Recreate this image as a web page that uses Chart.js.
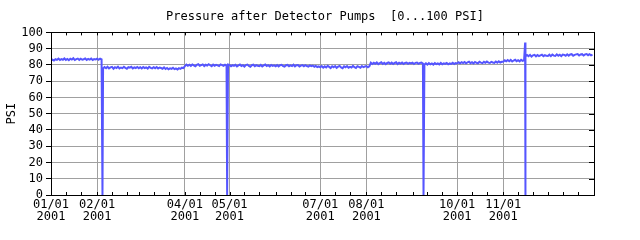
<!DOCTYPE html>
<html>
<head>
<meta charset="utf-8">
<script src="https://cdn.jsdelivr.net/npm/chart.js@4.4.1/dist/chart.umd.min.js"></script>
<style>
  html, body { margin: 0; padding: 0; background: #fff; }
</style>
</head>
<body>
<canvas id="myChart" width="640" height="240"></canvas>
<script>
// daily readings, PSI (day 0 = 01/01/2001)
const psiJan = [82.8, 83.3, 82.7, 83.5, 83.1, 83.9, 83.0, 83.6, 83.2, 84.0, 83.1, 83.7, 82.9, 83.8, 83.3, 84.1, 83.0, 83.6, 83.9, 83.1, 83.8, 83.2, 83.5, 84.0, 83.1, 83.7, 83.3, 83.9, 83.0, 83.6, 83.4];
const psiFeb = [83.8, 83.2, 83.9, 83.4, 77.8, 78.7, 78.0, 78.9, 77.9, 78.5, 78.8, 77.7, 78.6, 78.1, 78.9, 77.8, 78.4, 78.0, 78.8, 78.2, 77.7, 78.6, 78.3, 78.9, 77.9, 78.5, 78.1, 78.7];
const psiMar = [78.0, 78.6, 77.8, 78.7, 78.1, 78.5, 77.7, 78.8, 78.2, 77.9, 78.6, 78.0, 78.7, 77.8, 78.4, 78.1, 77.6, 78.5, 77.5, 78.1, 77.3, 77.9, 77.6, 78.2, 77.4, 77.8, 77.2, 78.0, 77.6, 78.3, 78.0];
const psiApr = [79.3, 80.2, 79.5, 80.1, 79.4, 80.3, 79.7, 79.2, 80.0, 80.4, 79.5, 79.9, 80.3, 79.3, 80.1, 79.6, 80.4, 79.8, 79.2, 80.2, 79.5, 80.0, 79.7, 79.3, 80.3, 79.9, 79.4, 80.1, 79.6, 80.2];
const psiMay = [80.0, 79.2, 79.9, 79.4, 80.1, 79.1, 79.7, 80.2, 79.3, 79.8, 79.0, 79.9, 80.2, 79.4, 78.9, 79.8, 80.1, 79.2, 79.9, 79.5, 79.2, 80.0, 79.1, 79.7, 80.2, 79.3, 79.8, 79.1, 80.0, 79.4, 79.7];
const psiJun = [79.2, 79.9, 79.1, 79.8, 80.1, 79.3, 79.0, 79.8, 80.0, 79.2, 79.7, 79.3, 80.1, 79.1, 79.8, 79.9, 79.0, 79.6, 79.9, 79.2, 79.8, 79.3, 79.0, 79.7, 79.2, 79.6, 78.9, 79.4, 78.7, 79.1];
const psiJul = [78.5, 79.3, 78.3, 79.1, 78.4, 79.4, 78.8, 78.1, 79.2, 78.6, 79.3, 78.2, 78.9, 79.4, 78.4, 78.0, 79.1, 78.6, 79.3, 78.3, 78.8, 78.4, 79.4, 78.6, 78.1, 79.2, 78.8, 78.3, 79.3, 78.6, 79.0];
const psiAug = [79.3, 78.6, 79.1, 81.4, 80.6, 81.3, 80.7, 81.5, 80.5, 81.1, 81.6, 80.6, 81.3, 80.5, 81.2, 81.5, 80.7, 81.4, 80.6, 81.2, 81.6, 80.5, 81.3, 80.8, 81.5, 80.6, 81.2, 81.4, 80.7, 81.3, 80.9];
const psiSep = [81.4, 80.6, 81.3, 81.5, 80.7, 81.2, 81.4, 80.8, 80.3, 81.0, 80.2, 81.1, 80.4, 80.9, 80.2, 81.1, 80.5, 80.9, 80.3, 81.2, 80.4, 81.0, 80.6, 81.2, 80.4, 80.9, 80.6, 81.3, 80.5, 81.1];
const psiOct = [80.9, 81.6, 81.0, 81.7, 81.1, 81.8, 81.0, 81.5, 82.0, 81.1, 81.7, 80.9, 81.8, 81.3, 81.0, 81.9, 81.4, 81.1, 81.9, 81.3, 82.1, 81.4, 81.2, 81.9, 81.5, 81.2, 82.1, 81.4, 82.2, 81.5, 81.9];
const psiNov = [82.0, 82.8, 82.2, 83.0, 82.3, 83.1, 82.1, 82.7, 83.2, 82.3, 82.9, 82.2, 83.1, 82.5, 82.8, 85.2, 86.1, 85.4, 86.2, 85.1, 85.9, 86.2, 85.3, 86.1, 85.4, 85.9, 86.3, 85.4, 86.0, 85.6];
const psiDec = [85.5, 86.3, 85.4, 86.4, 85.7, 85.5, 86.5, 85.7, 86.3, 85.4, 86.4, 86.2, 85.6, 86.5, 85.7, 86.4, 86.6, 85.7, 86.2, 86.5, 86.7, 85.8, 86.4, 86.6, 85.8, 86.5, 86.7, 86.0, 86.6, 85.9, 86.4];

// pump trips / spikes between daily readings
const eventDays = [34.6, 118.4, 250.4, 318.7, 318.85];
const eventPsi = [0, 0, 0, 93.8, 0];

// x axis
const monthStartDays = [0, 31, 59, 90, 120, 151, 181, 212, 243, 273, 304, 334];
const tickDays = [0, 31, 90, 120, 181, 212, 273, 304];
const tickLabels = ['01/01', '02/01', '04/01', '05/01', '07/01', '08/01', '10/01', '11/01'];
const yearLabel = '2001';

const daily = [].concat(psiJan, psiFeb, psiMar, psiApr, psiMay, psiJun, psiJul, psiAug, psiSep, psiOct, psiNov, psiDec);
const points = daily.map((v, i) => ({x: i, y: v}));
eventDays.forEach((d, i) => points.push({x: d, y: eventPsi[i]}));
points.sort((a, b) => a.x - b.x);

const minorDays = [];
monthStartDays.forEach(d => { minorDays.push(d, d + 10, d + 20); });

const mono = '"DejaVu Sans Mono", monospace';

// black frame, small ticks on top/bottom and right edges
const frame = {
  id: 'frame',
  afterDatasetsDraw(chart) {
    const {ctx, chartArea: a, scales} = chart;
    ctx.save();
    ctx.strokeStyle = '#000';
    ctx.lineWidth = 1;
    ctx.beginPath();
    minorDays.forEach(d => {
      const px = Math.round(scales.x.getPixelForValue(d)) + 0.5;
      ctx.moveTo(px, a.bottom); ctx.lineTo(px, a.bottom - 3);
      ctx.moveTo(px, a.top); ctx.lineTo(px, a.top + 3);
    });
    for (let v = 10; v < 100; v += 10) {
      const py = Math.round(scales.y.getPixelForValue(v)) + 0.5;
      ctx.moveTo(a.right, py); ctx.lineTo(a.right - 5, py);
    }
    ctx.stroke();
    ctx.strokeRect(Math.round(a.left) + 0.5, Math.round(a.top) + 0.5,
      Math.round(a.right - a.left), Math.round(a.bottom - a.top));
    ctx.restore();
  }
};

const chart1 = document.getElementById('myChart').getContext('2d');

const myChart = new Chart(chart1, {
  type: 'line',
  data: {
    datasets: [{
      data: points,
      borderColor: '#5555ff',
      borderWidth: 2,
      pointRadius: 0,
      tension: 0,
      fill: false
    }]
  },
  options: {
    responsive: false,
    animation: false,
    layout: {
      padding: {left: 10, right: 0, top: 0, bottom: 0}
    },
    plugins: {
      legend: {display: false},
      tooltip: {enabled: false},
      title: {
        display: true,
        text: 'Pressure after Detector Pumps  [0...100 PSI]',
        color: '#000',
        font: {family: mono, size: 12, weight: 'normal', lineHeight: 1.2},
        padding: {top: 10, bottom: 8}
      }
    },
    scales: {
      x: {
        type: 'linear',
        min: 0,
        max: 365,
        afterBuildTicks: (s) => { s.ticks = tickDays.map(v => ({value: v})); },
        afterFit: (s) => { s.height = 45; },
        border: {display: false},
        grid: {color: '#a0a0a0', drawTicks: false},
        ticks: {
          autoSkip: false,
          maxRotation: 0,
          padding: 4,
          color: '#000',
          font: {family: mono, size: 12, lineHeight: 1.0},
          callback: (value) => {
            const i = tickDays.indexOf(value);
            return i < 0 ? '' : [tickLabels[i], yearLabel];
          }
        }
      },
      y: {
        min: 0,
        max: 100,
        afterFit: (s) => { s.width = 41; },
        border: {display: false},
        grid: {color: '#a0a0a0', tickColor: '#000', tickLength: 5},
        ticks: {
          stepSize: 10,
          autoSkip: false,
          padding: 3,
          color: '#000',
          font: {family: mono, size: 12}
        },
        title: {
          display: true,
          text: 'PSI',
          color: '#000',
          font: {family: mono, size: 12, lineHeight: 1.0},
          padding: {top: -4, bottom: 0}
        }
      },
      // empty right margin so the title centres like the original
      yRight: {
        position: 'right',
        display: true,
        afterFit: (s) => { s.width = 46; },
        border: {display: false},
        grid: {display: false},
        ticks: {display: false}
      }
    }
  },
  plugins: [frame]
});
</script>
</body>
</html>
